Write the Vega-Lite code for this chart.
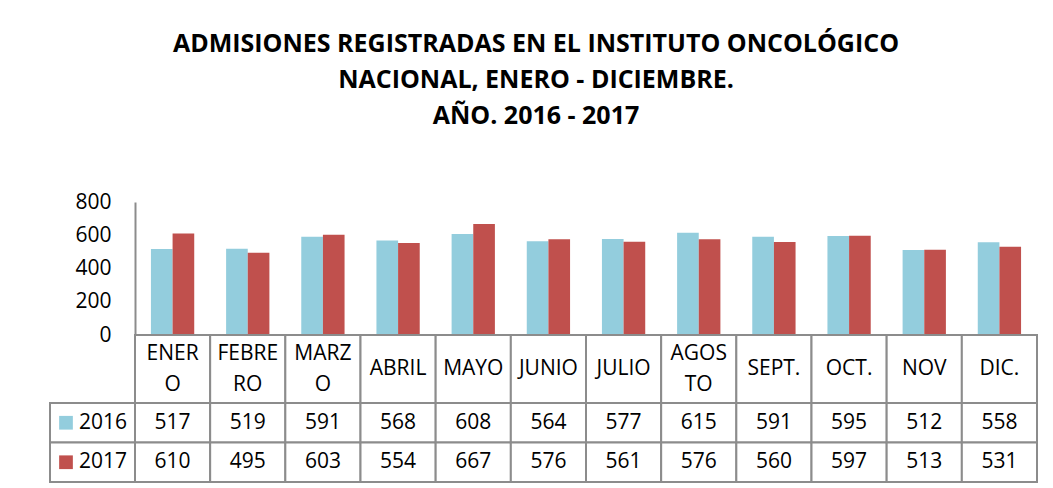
{
  "$schema": "https://vega.github.io/schema/vega-lite/v6.json",
  "width": 902,
  "height": 280,
  "autosize": {"type": "none"},
  "padding": {"left": 135, "top": 202, "right": 16, "bottom": 6},
  "background": "white",
  "title": {
    "text": ["ADMISIONES REGISTRADAS EN EL INSTITUTO ONCOLÓGICO", "NACIONAL, ENERO - DICIEMBRE.", "AÑO. 2016 - 2017"],
    "font": "Open Sans",
    "fontSize": 25,
    "fontWeight": "bold",
    "lineHeight": 36,
    "color": "black",
    "anchor": "middle",
    "dx": -50,
    "offset": 62
  },
  "config": {"view": {"stroke": null}, "font": "Open Sans"},
  "data": {
    "values": [
      {"mes": "ENERO", "etiqueta": "ENER\nO", "anio": "2016", "valor": 517},
      {"mes": "ENERO", "etiqueta": "ENER\nO", "anio": "2017", "valor": 610},
      {"mes": "FEBRERO", "etiqueta": "FEBRE\nRO", "anio": "2016", "valor": 519},
      {"mes": "FEBRERO", "etiqueta": "FEBRE\nRO", "anio": "2017", "valor": 495},
      {"mes": "MARZO", "etiqueta": "MARZ\nO", "anio": "2016", "valor": 591},
      {"mes": "MARZO", "etiqueta": "MARZ\nO", "anio": "2017", "valor": 603},
      {"mes": "ABRIL", "etiqueta": "ABRIL", "anio": "2016", "valor": 568},
      {"mes": "ABRIL", "etiqueta": "ABRIL", "anio": "2017", "valor": 554},
      {"mes": "MAYO", "etiqueta": "MAYO", "anio": "2016", "valor": 608},
      {"mes": "MAYO", "etiqueta": "MAYO", "anio": "2017", "valor": 667},
      {"mes": "JUNIO", "etiqueta": "JUNIO", "anio": "2016", "valor": 564},
      {"mes": "JUNIO", "etiqueta": "JUNIO", "anio": "2017", "valor": 576},
      {"mes": "JULIO", "etiqueta": "JULIO", "anio": "2016", "valor": 577},
      {"mes": "JULIO", "etiqueta": "JULIO", "anio": "2017", "valor": 561},
      {"mes": "AGOSTO", "etiqueta": "AGOS\nTO", "anio": "2016", "valor": 615},
      {"mes": "AGOSTO", "etiqueta": "AGOS\nTO", "anio": "2017", "valor": 576},
      {"mes": "SEPT.", "etiqueta": "SEPT.", "anio": "2016", "valor": 591},
      {"mes": "SEPT.", "etiqueta": "SEPT.", "anio": "2017", "valor": 560},
      {"mes": "OCT.", "etiqueta": "OCT.", "anio": "2016", "valor": 595},
      {"mes": "OCT.", "etiqueta": "OCT.", "anio": "2017", "valor": 597},
      {"mes": "NOV", "etiqueta": "NOV", "anio": "2016", "valor": 512},
      {"mes": "NOV", "etiqueta": "NOV", "anio": "2017", "valor": 513},
      {"mes": "DIC.", "etiqueta": "DIC.", "anio": "2016", "valor": 558},
      {"mes": "DIC.", "etiqueta": "DIC.", "anio": "2017", "valor": 531}
    ]
  },
  "resolve": {"scale": {"x": "independent", "y": "independent"}},
  "layer": [
    {
      "mark": {"type": "bar"},
      "encoding": {
        "x": {"field": "mes", "type": "nominal", "scale": {"domain": ["ENERO", "FEBRERO", "MARZO", "ABRIL", "MAYO", "JUNIO", "JULIO", "AGOSTO", "SEPT.", "OCT.", "NOV", "DIC."], "paddingInner": 0.424, "paddingOuter": 0.212}, "axis": null},
        "xOffset": {"field": "anio", "type": "nominal", "scale": {"domain": ["2016", "2017"], "paddingInner": 0, "paddingOuter": 0}},
        "y": {
          "field": "valor", "type": "quantitative",
          "scale": {"domain": [0, 800], "range": [133, 0], "nice": false},
          "axis": {"values": [0, 200, 400, 600, 800], "grid": false, "ticks": false, "tickSize": 0, "labelPadding": 24, "labelFont": "Open Sans", "labelFontSize": 21, "labelColor": "black", "domainColor": "#8c8c8c", "domainWidth": 2, "title": null}
        },
        "color": {"field": "anio", "type": "nominal", "scale": {"domain": ["2016", "2017"], "range": ["#93CDDD", "#C0504D"]}, "legend": null}
      }
    },
    {
      "transform": [{"filter": "datum.anio == '2016'"}],
      "mark": {"type": "rect", "fill": "white", "stroke": "#8c8c8c", "strokeWidth": 2},
      "encoding": {
        "x": {"field": "mes", "type": "nominal", "scale": {"domain": ["ENERO", "FEBRERO", "MARZO", "ABRIL", "MAYO", "JUNIO", "JULIO", "AGOSTO", "SEPT.", "OCT.", "NOV", "DIC."], "paddingInner": 0, "paddingOuter": 0}, "axis": null},
        "y": {"datum": "encabezado", "type": "nominal", "scale": {"range": [133, 201], "paddingInner": 0, "paddingOuter": 0}, "axis": null}
      }
    },
    {
      "transform": [{"filter": "datum.anio == '2016' && indexof(datum.etiqueta, '\\n') < 0"}],
      "mark": {"type": "text", "fontSize": 21, "font": "Open Sans", "color": "black", "baseline": "middle", "align": "center"},
      "encoding": {
        "x": {"field": "mes", "type": "nominal", "scale": {"domain": ["ENERO", "FEBRERO", "MARZO", "ABRIL", "MAYO", "JUNIO", "JULIO", "AGOSTO", "SEPT.", "OCT.", "NOV", "DIC."], "paddingInner": 0, "paddingOuter": 0}, "axis": null},
        "y": {"datum": "encabezado", "type": "nominal", "scale": {"range": [133, 201], "paddingInner": 0, "paddingOuter": 0}, "axis": null},
        "text": {"field": "etiqueta"}
      }
    },
    {
      "transform": [{"filter": "datum.anio == '2016' && indexof(datum.etiqueta, '\\n') >= 0"}],
      "mark": {"type": "text", "lineBreak": "\n", "lineHeight": 31, "dy": -15.5, "fontSize": 21, "font": "Open Sans", "color": "black", "baseline": "middle", "align": "center"},
      "encoding": {
        "x": {"field": "mes", "type": "nominal", "scale": {"domain": ["ENERO", "FEBRERO", "MARZO", "ABRIL", "MAYO", "JUNIO", "JULIO", "AGOSTO", "SEPT.", "OCT.", "NOV", "DIC."], "paddingInner": 0, "paddingOuter": 0}, "axis": null},
        "y": {"datum": "encabezado", "type": "nominal", "scale": {"range": [133, 201], "paddingInner": 0, "paddingOuter": 0}, "axis": null},
        "text": {"field": "etiqueta"}
      }
    },
    {
      "mark": {"type": "rect", "fill": "white", "stroke": "#8c8c8c", "strokeWidth": 2},
      "encoding": {
        "x": {"field": "mes", "type": "nominal", "scale": {"domain": ["ENERO", "FEBRERO", "MARZO", "ABRIL", "MAYO", "JUNIO", "JULIO", "AGOSTO", "SEPT.", "OCT.", "NOV", "DIC."], "paddingInner": 0, "paddingOuter": 0}, "axis": null},
        "y": {"field": "anio", "type": "nominal", "scale": {"domain": ["2016", "2017"], "range": [201, 280], "paddingInner": 0, "paddingOuter": 0}, "axis": null}
      }
    },
    {
      "mark": {"type": "text", "fontSize": 21, "font": "Open Sans", "color": "black", "baseline": "middle", "align": "center"},
      "encoding": {
        "x": {"field": "mes", "type": "nominal", "scale": {"domain": ["ENERO", "FEBRERO", "MARZO", "ABRIL", "MAYO", "JUNIO", "JULIO", "AGOSTO", "SEPT.", "OCT.", "NOV", "DIC."], "paddingInner": 0, "paddingOuter": 0}, "axis": null},
        "y": {"field": "anio", "type": "nominal", "scale": {"domain": ["2016", "2017"], "range": [201, 280], "paddingInner": 0, "paddingOuter": 0}, "axis": null},
        "text": {"field": "valor", "type": "quantitative"}
      }
    },
    {
      "transform": [{"filter": "datum.mes == 'ENERO'"}],
      "mark": {"type": "rect", "fill": "white", "stroke": "#8c8c8c", "strokeWidth": 2},
      "encoding": {
        "x": {"datum": "leyenda", "type": "nominal", "scale": {"range": [-85, 0], "paddingInner": 0, "paddingOuter": 0}, "axis": null},
        "y": {"field": "anio", "type": "nominal", "scale": {"domain": ["2016", "2017"], "range": [201, 280], "paddingInner": 0, "paddingOuter": 0}, "axis": null}
      }
    },
    {
      "transform": [{"filter": "datum.mes == 'ENERO'"}],
      "mark": {"type": "point", "shape": "square", "filled": true, "opacity": 1, "size": 188, "xOffset": -26.5},
      "encoding": {
        "x": {"datum": "leyenda", "type": "nominal", "scale": {"range": [-85, 0], "paddingInner": 0, "paddingOuter": 0}, "axis": null},
        "y": {"field": "anio", "type": "nominal", "scale": {"domain": ["2016", "2017"], "range": [201, 280], "paddingInner": 0, "paddingOuter": 0}, "axis": null},
        "color": {"field": "anio", "type": "nominal", "scale": {"domain": ["2016", "2017"], "range": ["#93CDDD", "#C0504D"]}, "legend": null}
      }
    },
    {
      "transform": [{"filter": "datum.mes == 'ENERO'"}],
      "mark": {"type": "text", "fontSize": 21, "font": "Open Sans", "color": "black", "baseline": "middle", "align": "left", "dx": -13.5},
      "encoding": {
        "x": {"datum": "leyenda", "type": "nominal", "scale": {"range": [-85, 0], "paddingInner": 0, "paddingOuter": 0}, "axis": null},
        "y": {"field": "anio", "type": "nominal", "scale": {"domain": ["2016", "2017"], "range": [201, 280], "paddingInner": 0, "paddingOuter": 0}, "axis": null},
        "text": {"field": "anio"}
      }
    }
  ]
}
